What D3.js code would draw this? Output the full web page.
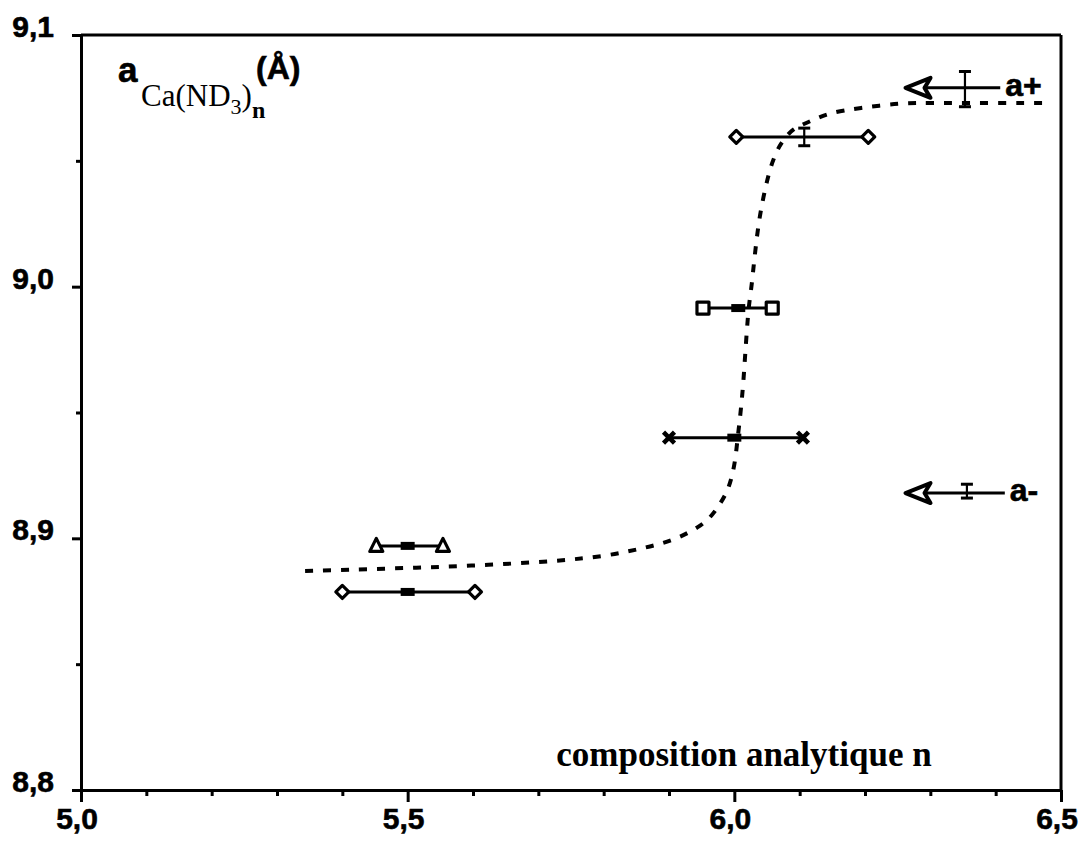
<!DOCTYPE html>
<html><head><meta charset="utf-8">
<script src="https://cdn.jsdelivr.net/npm/d3@7"></script>
<style>
html,body{margin:0;padding:0;background:#fff;}
svg{display:block;}
</style></head>
<body>
<svg id="chart" width="1084" height="843"></svg>
<script>
// ---- data ----
const xTickValues = [5.0, 5.5, 6.0, 6.5];
const xTickLabels = ["5,0", "5,5", "6,0", "6,5"];
const xMinorTicks = [5.1, 5.2, 5.3, 5.4, 5.6, 5.7, 5.8, 5.9, 6.1, 6.2, 6.3, 6.4];
const yTickValues = [8.8, 8.9, 9.0, 9.1];
const yTickLabels = ["8,8", "8,9", "9,0", "9,1"];
const yMinorTicks = [8.85, 8.95, 9.05];

// composition ranges (horizontal bars with end markers)
const rangeMarker = ["diamond", "triangle", "cross", "square", "diamond"];
const rangeLow    = [5.400, 5.452, 5.900, 5.952, 6.003];
const rangeHigh   = [5.603, 5.554, 6.105, 6.058, 6.205];
const rangeY      = [8.8787, 8.897, 8.940, 8.9915, 9.0595];
const rangeCenter = [5.500, 5.500, 6.000, 6.006, null];

// vertical error bars
const errX  = [6.107, 6.353, 6.356];
const errLo = [9.0560, 9.0715, 8.9160];
const errHi = [9.0630, 9.0855, 8.9215];

// reference arrows a+ / a-
const refLabel = ["a+", "a-"];
const refY     = [9.079, 8.918];
const refTip   = [6.262, 6.262];
const refEnd   = [6.407, 6.414];

// dashed fitted curve
const curveX = [5.343, 5.473, 5.595, 5.733, 5.805, 5.859, 5.906, 5.947, 5.966, 5.979, 5.990, 5.997, 6.002, 6.005, 6.008, 6.011, 6.014, 6.021, 6.026, 6.029, 6.035, 6.039, 6.044, 6.050, 6.056, 6.065, 6.074, 6.090, 6.111, 6.142, 6.192, 6.254, 6.304, 6.376, 6.476];
const curveY = [8.887, 8.888, 8.889, 8.891, 8.893, 8.896, 8.899, 8.9045, 8.909, 8.914, 8.919, 8.925, 8.932, 8.940, 8.946, 8.954, 8.962, 8.991, 8.999, 9.007, 9.021, 9.028, 9.035, 9.042, 9.048, 9.054, 9.058, 9.063, 9.065, 9.069, 9.071, 9.073, 9.073, 9.073, 9.073];

// ---- drawing ----
const svg = d3.select("#chart");
const mLeft = 81, mRight = 1061, mTop = 35, mBottom = 790;
const x = d3.scaleLinear().domain([5.0, 6.5]).range([mLeft, mRight]);
const y = d3.scaleLinear().domain([8.8, 9.1]).range([mBottom, mTop]);

const sans = "'Liberation Sans', Arial, Helvetica, sans-serif";
const serif = "'Liberation Serif', 'Times New Roman', Times, serif";

function styleAxis(g){
  g.selectAll("path.domain").attr("stroke", "#000").attr("stroke-width", 3);
  g.selectAll(".tick line").attr("stroke", "#000").attr("stroke-width", 3);
  g.selectAll(".tick text").remove();
}

// x axis
svg.append("g").attr("transform", `translate(0,${mBottom})`)
  .call(d3.axisBottom(x).tickValues(xMinorTicks).tickSize(6).tickSizeOuter(0).tickFormat(""))
  .call(styleAxis);
svg.append("g").attr("transform", `translate(0,${mBottom})`)
  .call(d3.axisBottom(x).tickValues(xTickValues).tickSize(12).tickSizeOuter(0).tickFormat(""))
  .call(styleAxis);
// y axis
svg.append("g").attr("transform", `translate(${mLeft},0)`)
  .call(d3.axisLeft(y).tickValues(yMinorTicks).tickSize(5).tickSizeOuter(0).tickFormat(""))
  .call(styleAxis);
svg.append("g").attr("transform", `translate(${mLeft},0)`)
  .call(d3.axisLeft(y).tickValues(yTickValues).tickSize(9).tickSizeOuter(0).tickFormat(""))
  .call(styleAxis);
// frame top and right
svg.append("line").attr("x1", mLeft).attr("x2", mRight).attr("y1", y(9.1)).attr("y2", y(9.1))
  .attr("stroke", "#000").attr("stroke-width", 3);
svg.append("line").attr("x1", x(6.5)).attr("x2", x(6.5)).attr("y1", y(9.1)).attr("y2", y(8.8))
  .attr("stroke", "#000").attr("stroke-width", 3);

// tick labels
svg.selectAll("text.xl").data(xTickValues).enter().append("text")
  .attr("x", d => x(d) - 4).attr("y", 829)
  .attr("text-anchor", "middle").attr("font-family", sans).attr("font-weight", "bold")
  .attr("font-size", 30).attr("stroke", "#000").attr("stroke-width", 0.6)
  .text((d, i) => xTickLabels[i]);
svg.selectAll("text.yl").data(yTickValues).enter().append("text")
  .attr("x", 54).attr("y", d => y(d) + 2)
  .attr("text-anchor", "end").attr("font-family", sans).attr("font-weight", "bold")
  .attr("font-size", 30).attr("stroke", "#000").attr("stroke-width", 0.6)
  .text((d, i) => yTickLabels[i]);

// dashed curve
const curvePts = curveX.map((v, i) => [v, curveY[i]]);
svg.append("path").datum(curvePts)
  .attr("d", d3.line().x(d => x(d[0])).y(d => y(d[1])).curve(d3.curveBasis))
  .attr("fill", "none").attr("stroke", "#000").attr("stroke-width", 4)
  .attr("stroke-dasharray", "8,10");

// range bars
const ranges = rangeY.map((v, i) => ({lo: rangeLow[i], hi: rangeHigh[i], y: v, c: rangeCenter[i], m: rangeMarker[i]}));
const rg = svg.append("g");
rg.selectAll("line.rb").data(ranges).enter().append("line")
  .attr("x1", d => x(d.lo)).attr("x2", d => x(d.hi))
  .attr("y1", d => y(d.y)).attr("y2", d => y(d.y))
  .attr("stroke", "#000").attr("stroke-width", 3);
rg.selectAll("rect.cm").data(ranges.filter(d => d.c !== null)).enter().append("rect")
  .attr("x", d => x(d.c) - 7).attr("y", d => y(d.y) - 4)
  .attr("width", 14).attr("height", 8).attr("fill", "#000");

function markerPath(type, cx, cy){
  if (type === "diamond") { const s = 6.5; return `M${cx-s},${cy}L${cx},${cy-s}L${cx+s},${cy}L${cx},${cy+s}Z`; }
  if (type === "square")  { const s = 6; return `M${cx-s},${cy-s}H${cx+s}V${cy+s}H${cx-s}Z`; }
  if (type === "triangle"){ const s = 6.5; return `M${cx},${cy-s-1}L${cx+s},${cy+s-1}L${cx-s},${cy+s-1}Z`; }
  if (type === "cross")   { const s = 5.5; return `M${cx-s},${cy-s}L${cx+s},${cy+s}M${cx-s},${cy+s}L${cx+s},${cy-s}`; }
}
ranges.forEach(d => {
  [d.lo, d.hi].forEach(v => {
    rg.append("path").attr("d", markerPath(d.m, x(v), y(d.y)))
      .attr("fill", d.m === "cross" ? "none" : "#fff")
      .attr("stroke", "#000").attr("stroke-width", d.m === "cross" ? 4.5 : 3.2)
      .attr("stroke-linejoin", "round");
  });
});

// reference arrows
refY.forEach((v, i) => {
  const yy = y(v), tx = x(refTip[i]), ex = x(refEnd[i]);
  svg.append("line").attr("x1", tx).attr("x2", ex).attr("y1", yy).attr("y2", yy)
    .attr("stroke", "#000").attr("stroke-width", 3);
  svg.append("path")
    .attr("d", `M${tx},${yy}L${tx+25},${yy-10}L${tx+19},${yy}L${tx+25},${yy+10}Z`)
    .attr("fill", "#fff").attr("stroke", "#000").attr("stroke-width", 4).attr("stroke-linejoin", "round");
  svg.append("text").attr("x", ex + 5).attr("y", yy + 8)
    .attr("font-family", sans).attr("font-weight", "bold").attr("font-size", 32)
    .attr("stroke", "#000").attr("stroke-width", 0.6)
    .text(refLabel[i]);
});

// error bars
errX.forEach((v, i) => {
  const g = svg.append("g").attr("stroke", "#000");
  g.append("line").attr("x1", x(v)).attr("x2", x(v)).attr("y1", y(errLo[i])).attr("y2", y(errHi[i])).attr("stroke-width", 2.2);
  g.append("line").attr("x1", x(v) - 6).attr("x2", x(v) + 6).attr("y1", y(errLo[i])).attr("y2", y(errLo[i])).attr("stroke-width", 3);
  g.append("line").attr("x1", x(v) - 6).attr("x2", x(v) + 6).attr("y1", y(errHi[i])).attr("y2", y(errHi[i])).attr("stroke-width", 3);
});

// y axis title
svg.append("text").attr("x", 118).attr("y", 82)
  .attr("font-family", sans).attr("font-weight", "bold").attr("font-size", 35)
  .attr("stroke", "#000").attr("stroke-width", 0.6).text("a");
const t2 = svg.append("text").attr("x", 141).attr("y", 106).attr("font-family", serif).attr("font-size", 31);
t2.append("tspan").text("Ca(ND");
t2.append("tspan").attr("font-size", 22).attr("dy", 8).text("3");
t2.append("tspan").attr("dy", -8).text(")");
t2.append("tspan").attr("font-size", 24).attr("font-weight", "bold").attr("dy", 12).text("n");
svg.append("text").attr("x", 256).attr("y", 79)
  .attr("font-family", sans).attr("font-weight", "bold").attr("font-size", 32)
  .attr("stroke", "#000").attr("stroke-width", 0.6).text("(Å)");

// x axis title
svg.append("text").attr("x", 744).attr("y", 766).attr("text-anchor", "middle")
  .attr("font-family", serif).attr("font-weight", "bold").attr("font-size", 35)
  .text("composition analytique n");
</script>
</body></html>
